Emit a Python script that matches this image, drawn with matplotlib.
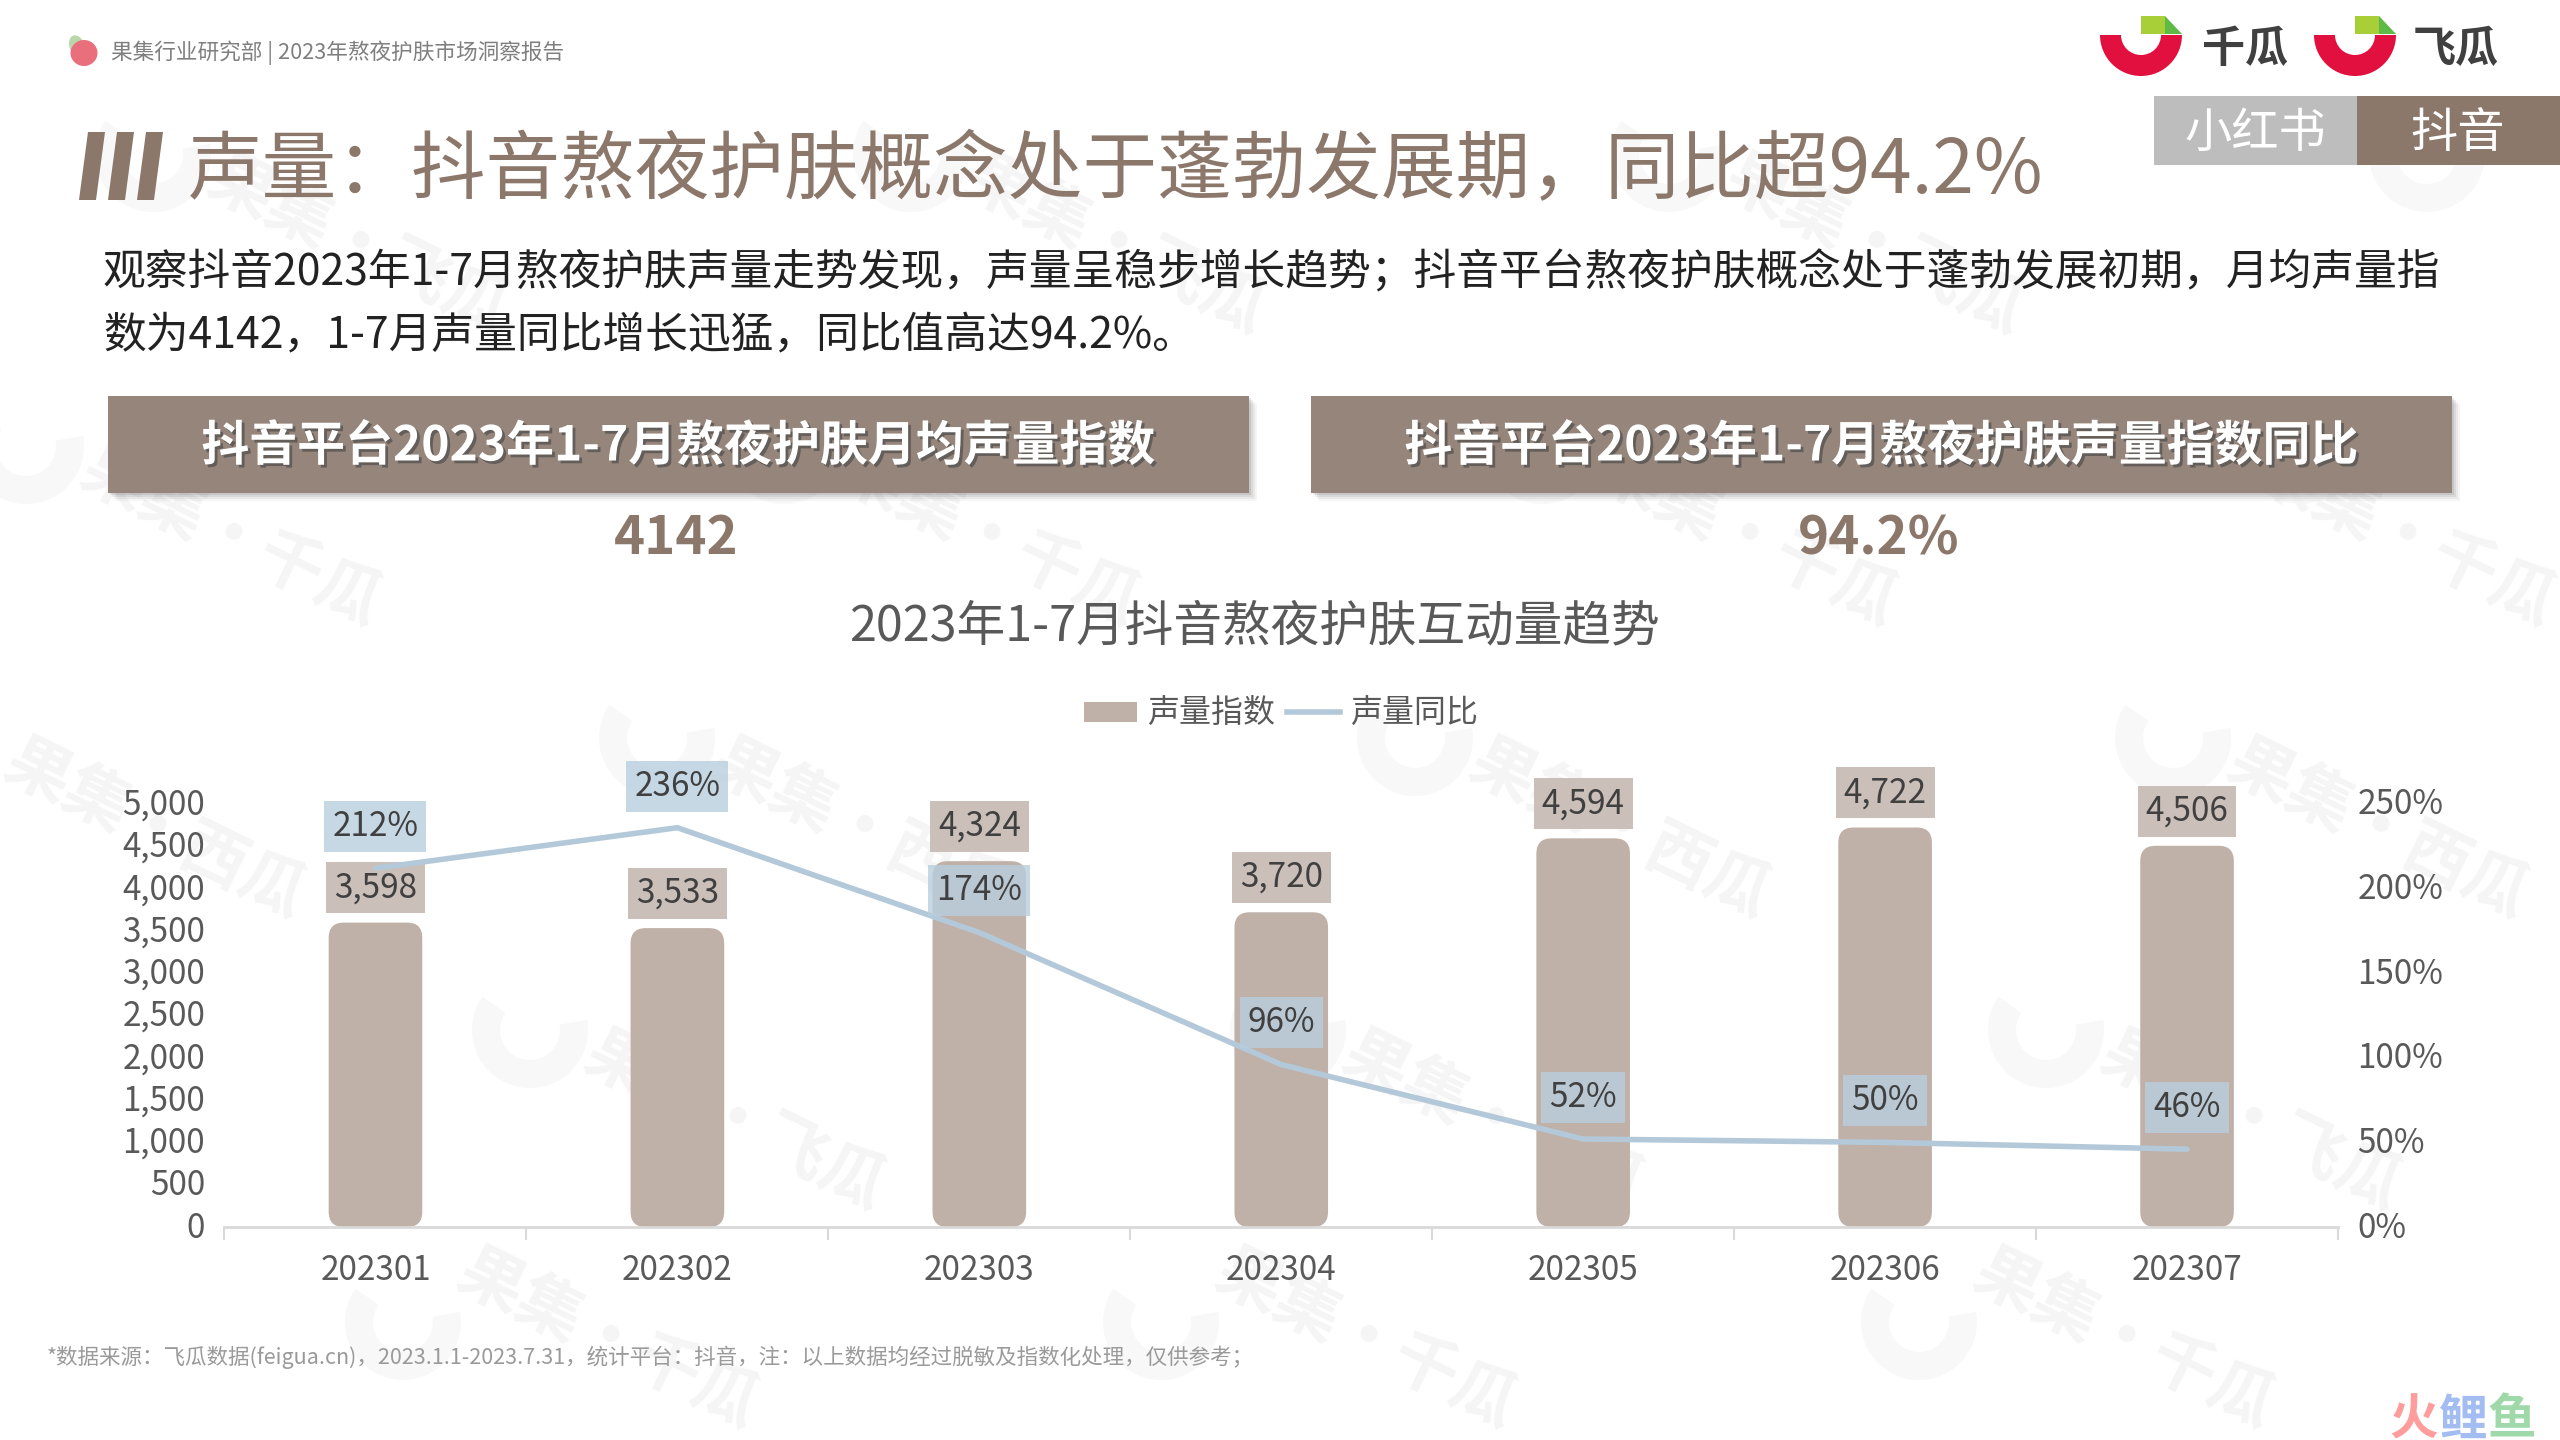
import matplotlib
matplotlib.use("Agg")
import matplotlib.pyplot as plt
import matplotlib.patheffects as pe
import matplotlib.transforms as mtransforms
from matplotlib.patches import FancyBboxPatch, Rectangle, Polygon, Wedge, Ellipse, Patch
from matplotlib.lines import Line2D

plt.rcParams['font.family'] = ['Noto Sans CJK SC', 'DejaVu Sans']

months = ['202301', '202302', '202303', '202304', '202305', '202306', '202307']
volume = [3598, 3533, 4324, 3720, 4594, 4722, 4506]
yoy = [212, 236, 174, 96, 52, 50, 46]
left_ticks = [0, 500, 1000, 1500, 2000, 2500, 3000, 3500, 4000, 4500, 5000]
right_ticks = [0, 50, 100, 150, 200, 250]

title = '声量：抖音熬夜护肤概念处于蓬勃发展期，同比超94.2%'
body1 = '观察抖音2023年1-7月熬夜护肤声量走势发现，声量呈稳步增长趋势；抖音平台熬夜护肤概念处于蓬勃发展初期，月均声量指'
body2 = '数为4142，1-7月声量同比增长迅猛，同比值高达94.2%。'
head1 = '抖音平台2023年1-7月熬夜护肤月均声量指数'
head2 = '抖音平台2023年1-7月熬夜护肤声量指数同比'
chart_title = '2023年1-7月抖音熬夜护肤互动量趋势'
source = '*数据来源：飞瓜数据(feigua.cn)，2023.1.1-2023.7.31，统计平台：抖音，注：以上数据均经过脱敏及指数化处理，仅供参考；'

BROWN = '#8c776b'
BAR = '#bfb0a8'
LINE = '#b3c9d9'
TXT = '#595959'

fig = plt.figure(figsize=(25.6, 14.4), dpi=100, facecolor='white')

# page layer in pixel coordinates, sits behind the chart
bg = fig.add_axes([0, 0, 1, 1], zorder=0)
bg.set_xlim(0, 2560)
bg.set_ylim(1440, 0)
bg.axis('off')

# watermark rows, text kept whole inside the page
names = ['西瓜', '飞瓜', '千瓜', '西瓜', '飞瓜', '千瓜']
for r in range(6):
    rx = 1038 - 127 * r
    ry = -138 + 292 * r
    for c in range(-2, 3):
        x = rx + 758 * c
        bg.add_patch(Wedge((x, ry), 58, -10, 215, width=28, color='#f8f8f8', lw=0, zorder=1))
        tx, ty = x + 205, ry + 92
        if 0 < tx < 2560 and 0 < ty < 1440:
            bg.text(min(max(tx, 155), 2405), min(max(ty, 100), 1340), '果集·' + names[r], fontsize=47,
                    fontweight='bold', color='#f5f5f5', rotation=-26, ha='center', va='center', zorder=1)

# small logo and page header
bg.add_patch(Ellipse((77, 46), 15, 22, angle=-20, color='#b9d7a8', lw=0, zorder=3))
bg.add_patch(Ellipse((84, 53), 27, 26, color='#ea6f7c', lw=0, zorder=3))
bg.text(111, 53, '果集行业研究部 | 2023年熬夜护肤市场洞察报告', fontsize=15.6, color='#7f7f7f', va='center', zorder=3)

# III mark next to the title
for x0 in (79, 108, 137):
    bg.add_patch(Polygon([(x0 + 9, 132), (x0 + 26, 132), (x0 + 17, 200), (x0, 200)], color=BROWN, lw=0, zorder=3))
bg.text(188, 172, title, fontsize=53.7, fontweight='light', color=BROWN, va='center', zorder=3)

# top right logos
for cx, name, tx in ((2141, '千瓜', 2245), (2355, '飞瓜', 2456)):
    bg.add_patch(Wedge((cx, 35), 41, 0, 180, width=21, color='#e2103f', lw=0, zorder=3))
    bg.add_patch(Polygon([(cx, 16), (cx + 24, 16), (cx + 24, 34), (cx, 34)], color='#a9cf38', lw=0, zorder=3))
    bg.add_patch(Polygon([(cx + 24, 16), (cx + 41, 34), (cx + 24, 34)], color='#5fb946', lw=0, zorder=3))
    bg.text(tx, 49, name, fontsize=31, fontweight='bold', color='#404040', ha='center', va='center', zorder=3)

# platform tabs
bg.add_patch(Rectangle((2154, 96), 203, 69, color='#bdbdbd', lw=0, zorder=3))
bg.add_patch(Rectangle((2357, 96), 203, 69, color=BROWN, lw=0, zorder=3))
bg.text(2255, 134, '小红书', fontsize=34, fontweight='light', color='white', ha='center', va='center', zorder=4)
bg.text(2458, 134, '抖音', fontsize=34, color='white', ha='center', va='center', zorder=4)

bg.text(103, 273, body1, fontsize=30.8, color='#222222', va='center', zorder=3)
bg.text(103, 336, body2, fontsize=30.8, color='#222222', va='center', zorder=3)

# header boxes with soft shadow
for x0, label, val, vx in ((108, head1, '4142', 676), (1311, head2, '94.2%', 1879)):
    for k, a in ((8, 0.06), (6, 0.08), (4, 0.10), (2, 0.14)):
        bg.add_patch(Rectangle((x0 + k, 396 + k), 1141, 97, color='#555555', alpha=a, lw=0, zorder=3))
    bg.add_patch(Rectangle((x0, 396), 1141, 97, color='#95857b', lw=0, zorder=4))
    bg.text(x0 + 570, 446, label, fontsize=34.5, fontweight='bold', color='white', ha='center', va='center', zorder=5,
            path_effects=[pe.SimplePatchShadow(offset=(2, -2), shadow_rgbFace='#444444', alpha=0.6), pe.Normal()])
    bg.text(vx, 539, val, fontsize=38, fontweight='bold', color=BROWN, ha='center', va='center', zorder=4)

bg.text(1254, 627, chart_title, fontsize=35, color=TXT, ha='center', va='center', zorder=3)
bg.text(47, 1357, source, fontsize=15.5, color='#9a9a9a', va='center', zorder=3)

# corner mark
for ch, x, col in (('火', 2414, '#ff9d9d'), ('鲤', 2463, '#a3bdf2'), ('鱼', 2512, '#9fd9aa')):
    bg.text(x, 1420, ch, fontsize=35, fontweight='bold', color=col, ha='center', va='center', zorder=3)

# chart
ax = fig.add_axes([224.5 / 2560, (1440 - 1227) / 1440, (2338 - 224.5) / 2560, 423 / 1440], zorder=2)
ax.patch.set_alpha(0)
ax.set_xlim(-0.5, 6.5)
ax.set_ylim(0, 5000)

for i, v in enumerate(volume):
    ax.add_patch(FancyBboxPatch((i - 0.155, 0), 0.31, v, boxstyle='round,pad=0,rounding_size=0.05',
                                mutation_aspect=3600, fc=BAR, ec='none', zorder=2, clip_on=False))
    ax.annotate(f'{v:,}', (i, v), xytext=(0, 25), textcoords='offset points', ha='center', va='center',
                fontsize=24, color='#404040', zorder=3,
                bbox=dict(boxstyle='square,pad=0.24', fc='#cbbfb9', ec='none'))

ax.set_xticks([i - 0.5 for i in range(8)])
ax.set_xticklabels([])
ax.set_xticks(range(7), minor=True)
ax.set_xticklabels(months, minor=True, fontsize=24, color=TXT)
ax.tick_params(axis='x', which='major', length=9, width=1.5, color='#d9d9d9')
ax.tick_params(axis='x', which='minor', length=0, pad=19)
ax.set_yticks(left_ticks)
ax.set_yticklabels([f'{t:,}' for t in left_ticks], fontsize=24, color=TXT)
ax.tick_params(axis='y', length=0, pad=14)
for s in ('top', 'left', 'right'):
    ax.spines[s].set_visible(False)
ax.spines['bottom'].set_color('#d9d9d9')
ax.spines['bottom'].set_linewidth(2)

ax2 = ax.twinx()
ax2.set_zorder(3)
ax2.patch.set_alpha(0)
ax2.set_ylim(0, 250)
ax2.plot(range(7), yoy, color=LINE, lw=4, solid_capstyle='round', solid_joinstyle='round', zorder=2)
for i, v in enumerate(yoy):
    ax2.annotate(f'{v}%', (i, v), xytext=(0, 30), textcoords='offset points', ha='center', va='center',
                 fontsize=24, color='#404040', zorder=3,
                 bbox=dict(boxstyle='square,pad=0.24', fc='#b9cfdf', ec='none', alpha=0.8))
ax2.set_yticks(right_ticks)
ax2.set_yticklabels([f'{t}%' for t in right_ticks], fontsize=24, color=TXT)
ax2.tick_params(axis='y', length=0, pad=14)
for s in ('top', 'left', 'right', 'bottom'):
    ax2.spines[s].set_visible(False)

# lift the value-axis labels a little, they sit above their gridline height in the original
lift = mtransforms.ScaledTranslation(0, 3 / 100, fig.dpi_scale_trans)
for lab in ax.get_yticklabels() + ax2.get_yticklabels():
    lab.set_transform(lab.get_transform() + lift)

handles = [Patch(fc=BAR, ec='none'), Line2D([0], [0], color=LINE, lw=4)]
leg = fig.legend(handles, ['声量指数', '声量同比'], loc='center', bbox_to_anchor=(1281 / 2560, (1440 - 714) / 1440),
                 ncol=2, frameon=False, fontsize=23, labelcolor=TXT, handlelength=1.65, handleheight=0.6,
                 handletextpad=0.3, columnspacing=0.4)

fig.savefig('out.png', dpi=100)
